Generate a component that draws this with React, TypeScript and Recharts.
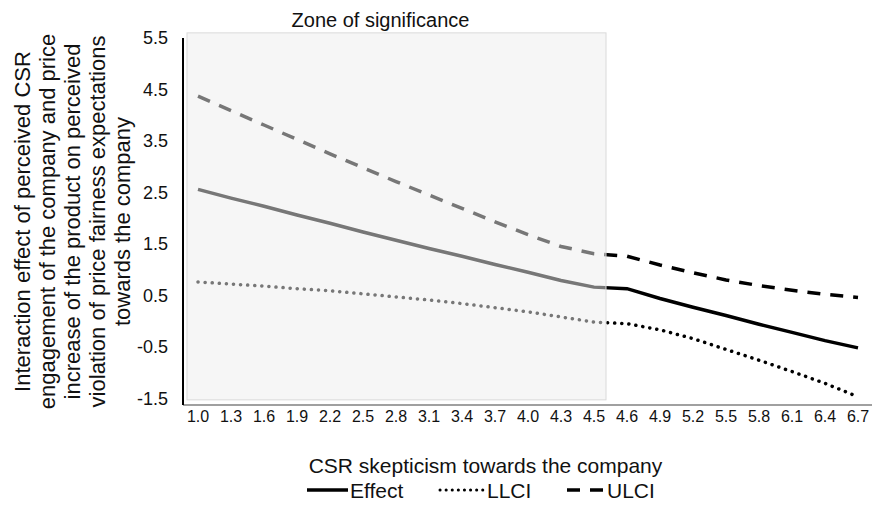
import { LineChart, Line, XAxis, YAxis, ReferenceArea, Legend } from "recharts";

const skepticism = [
  "1.0", "1.3", "1.6", "1.9", "2.2", "2.5", "2.8", "3.1", "3.4", "3.7", "4.0",
  "4.3", "4.5", "4.6", "4.9", "5.2", "5.5", "5.8", "6.1", "6.4", "6.7"
];
const effect = [
  2.56, 2.39, 2.23, 2.06, 1.9, 1.73, 1.57, 1.41, 1.26, 1.1, 0.95,
  0.79, 0.66, 0.63, 0.44, 0.27, 0.11, -0.06, -0.22, -0.38, -0.52
];
const llci = [
  0.76, 0.72, 0.68, 0.63, 0.59, 0.53, 0.47, 0.41, 0.34, 0.26, 0.18,
  0.08, -0.02, -0.05, -0.17, -0.34, -0.55, -0.76, -0.98, -1.21, -1.47
];
const ulci = [
  4.37, 4.09, 3.81, 3.53, 3.25, 2.98, 2.71, 2.45, 2.19, 1.93, 1.68,
  1.45, 1.31, 1.26, 1.09, 0.94, 0.8, 0.69, 0.6, 0.52, 0.46
];
const yTicks = [-1.5, -0.5, 0.5, 1.5, 2.5, 3.5, 4.5, 5.5];
const yTitle = [
  "Interaction effect of perceived CSR",
  "engagement of the company and price",
  "increase of the product on perceived",
  "violation of price fairness expectations",
  "towards the company"
];
const xTitle = "CSR skepticism towards the company";
const zoneTitle = "Zone of significance";
const zoneFrom = "1.0";
const zoneTo = "4.5";

const chartData = skepticism.map((x, i) => ({
  x,
  effect: effect[i],
  llci: llci[i],
  ulci: ulci[i]
}));

const font = "'Liberation Sans', Arial, sans-serif";

const series = [
  { key: "effect", name: "Effect", dash: undefined as string | undefined },
  { key: "llci", name: "LLCI", dash: "0.1 7" },
  { key: "ulci", name: "ULCI", dash: "13 10" }
];

function ZoneShape(props: any) {
  const { x, y, width, height } = props;
  const left = x - 11;
  const right = x + width + 12;
  return (
    <g>
      <rect
        x={left}
        y={y}
        width={right - left}
        height={height}
        fill="#eeeeee"
        fillOpacity={0.5}
        stroke="#dadada"
        strokeWidth={1}
      />
      <text
        x={(left + right) / 2 - 16}
        y={y - 13}
        textAnchor="middle"
        dominantBaseline="central"
        fontSize={20}
        fontFamily={font}
        fill="#111"
      >
        {zoneTitle}
      </text>
    </g>
  );
}

function YTitle(props: any) {
  const vb = props.viewBox || { y: 38, height: 367 };
  const cy = vb.y + vb.height / 2;
  return (
    <g fontSize={22} fontFamily={font} fill="#111">
      {yTitle.map((line, i) => {
        const cx = 22 + i * 25;
        return (
          <text
            key={line}
            x={cx}
            y={cy}
            textAnchor="middle"
            dominantBaseline="central"
            transform={`rotate(-90, ${cx}, ${cy})`}
          >
            {line}
          </text>
        );
      })}
    </g>
  );
}

function XTitle(props: any) {
  const vb = props.viewBox || { x: 183, width: 689, y: 405 };
  return (
    <text
      x={vb.x + vb.width / 2 - 42}
      y={465}
      textAnchor="middle"
      dominantBaseline="central"
      fontSize={21}
      fontFamily={font}
      fill="#111"
    >
      {xTitle}
    </text>
  );
}

function LegendRow() {
  const slots = [
    { x1: 307, x2: 348 },
    { x1: 440, x2: 485 },
    { x1: 567, x2: 605 }
  ];
  return (
    <svg width={872} height={26}>
      {series.map((s, i) => (
        <g key={s.key}>
          <line
            x1={slots[i].x1}
            x2={slots[i].x2}
            y1={13}
            y2={13}
            stroke="#000"
            strokeWidth={s.dash === "0.1 7" ? 3 : 3.5}
            strokeDasharray={s.dash === "0.1 7" ? "0.1 6" : s.dash}
            strokeLinecap={s.dash === "0.1 7" ? "round" : "butt"}
          />
          <text
            x={slots[i].x2 + 2}
            y={13}
            dominantBaseline="central"
            fontSize={21}
            fontFamily={font}
            fill="#111"
          >
            {s.name}
          </text>
        </g>
      ))}
    </svg>
  );
}

export default function App() {
  return (
    <div
      style={{
        position: "absolute",
        left: 0,
        top: 0,
        width: 872,
        height: 506,
        background: "#fff"
      }}
    >
      <LineChart
        width={872}
        height={506}
        data={chartData}
        margin={{ top: 38, right: 0, bottom: 71, left: 0 }}
      >
        <XAxis
          dataKey="x"
          interval={0}
          padding={{ left: 15, right: 14 }}
          height={30}
          tickSize={0}
          tickMargin={6}
          tick={{ fontSize: 16, fontFamily: font, fill: "#111" }}
          axisLine={{ stroke: "#a0a0a0", strokeWidth: 2 }}
          label={<XTitle />}
        />
        <YAxis
          width={183}
          domain={[-1.63, 5.5]}
          ticks={yTicks}
          interval={0}
          tickSize={0}
          tickMargin={15}
          tickFormatter={(v: number) => v.toFixed(1)}
          tick={{ fontSize: 18, fontFamily: font, fill: "#111" }}
          axisLine={{ stroke: "#000", strokeWidth: 2 }}
          allowDataOverflow
          label={<YTitle />}
        />
        {series.map((s) => (
          <Line
            key={s.key}
            dataKey={s.key}
            name={s.name}
            type="linear"
            stroke="#000"
            strokeWidth={3.5}
            strokeDasharray={s.dash}
            strokeLinecap={s.dash === "0.1 7" ? "round" : "butt"}
            dot={false}
            activeDot={false}
            isAnimationActive={false}
          />
        ))}
        <ReferenceArea
          x1={zoneFrom}
          x2={zoneTo}
          y1={-1.53}
          y2={5.6}
          ifOverflow="visible"
          shape={<ZoneShape />}
          zIndex={450}
        />
        <Legend
          layout="horizontal"
          align="center"
          verticalAlign="middle"
          content={<LegendRow />}
          wrapperStyle={{ position: "absolute", left: 0, top: 477, width: 872 }}
        />
      </LineChart>
    </div>
  );
}
